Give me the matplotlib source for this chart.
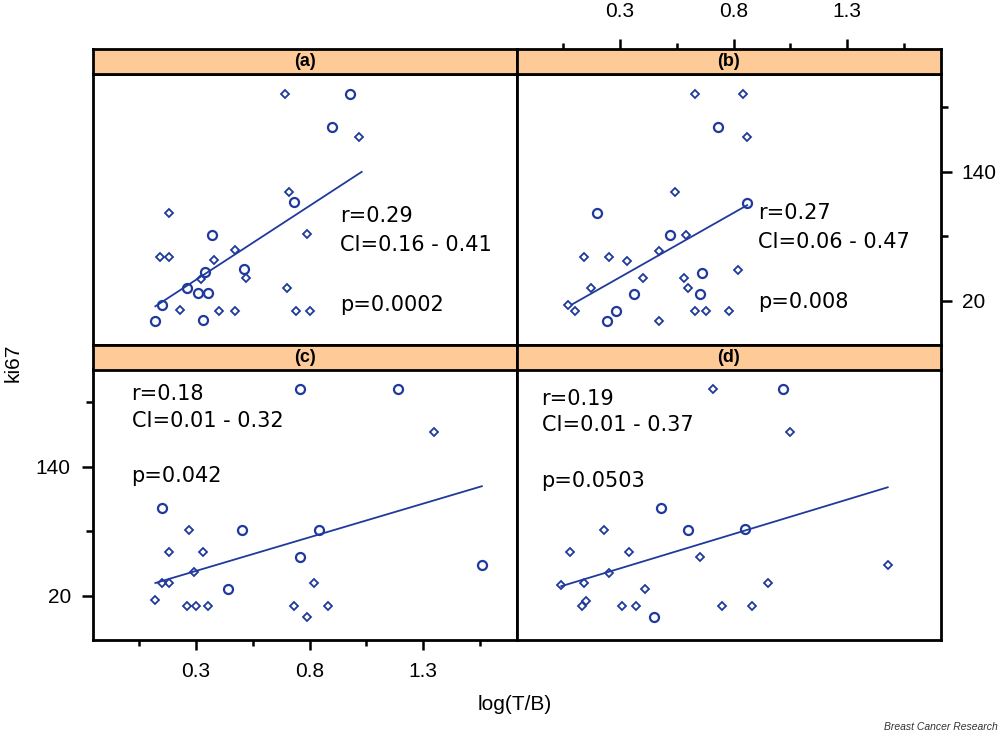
import matplotlib
matplotlib.use("Agg")
import matplotlib.pyplot as plt

# values (x = log(T/B), y = ki67)
a_big_x = [0.98, 0.90, 0.73, 0.37, 0.51, 0.31, 0.35, 0.12, 0.33, 0.26, 0.15, 0.34]
a_big_y = [212, 182, 112, 81, 50, 27, 27, 1, 2, 32, 16, 47]
a_small_x = [0.69, 1.02, 0.71, 0.18, 0.79, 0.14, 0.18, 0.38, 0.47, 0.52, 0.70,
             0.23, 0.40, 0.47, 0.74, 0.80, 0.32]
a_small_y = [212, 172, 121, 102, 82, 61, 61, 58, 67, 41, 32, 12, 11, 11, 11, 11, 40]
a_fit_x = [0.12, 1.03]
a_fit_y = [15, 140]

b_big_x = [0.73, 0.20, 0.52, 0.86, 0.66, 0.36, 0.65, 0.24, 0.28]
b_big_y = [182, 102, 81, 111, 46, 26, 26, 1, 11]
b_small_x = [0.63, 0.84, 0.86, 0.54, 0.59, 0.14, 0.25, 0.33, 0.47, 0.40, 0.58,
             0.60, 0.82, 0.17, 0.07, 0.10, 0.63, 0.68, 0.78, 0.47]
b_small_y = [212, 212, 172, 121, 81, 61, 61, 57, 66, 41, 41, 32, 49, 32, 16, 11,
             11, 11, 11, 1]
b_fit_x = [0.09, 0.86]
b_fit_y = [17, 109]

c_big_x = [0.76, 1.19, 0.15, 0.50, 0.76, 1.56, 0.44, 0.84]
c_big_y = [212, 212, 102, 81, 56, 49, 26, 81]
c_small_x = [1.35, 0.27, 0.18, 0.33, 0.15, 0.18, 0.29, 0.12, 0.26, 0.30, 0.35,
             0.73, 0.88, 0.79, 0.82]
c_small_y = [172, 81, 61, 61, 32, 32, 42, 16, 11, 11, 11, 11, 11, 0, 32]
c_fit_x = [0.12, 1.56]
c_fit_y = [32, 122]

d_big_x = [1.02, 0.48, 0.60, 0.45, 0.85]
d_big_y = [212, 102, 81, 0, 82]
d_small_x = [0.71, 1.05, 0.23, 0.08, 0.34, 0.65, 1.48, 0.04, 0.14, 0.41, 0.95,
             0.15, 0.13, 0.31, 0.37, 0.75, 0.88, 0.25]
d_small_y = [212, 172, 81, 61, 61, 56, 49, 30, 32, 26, 32, 15, 11, 11, 11, 11, 11, 41]
d_fit_x = [0.04, 1.48]
d_fit_y = [29, 121]

panel_names = ["(a)", "(b)", "(c)", "(d)"]
r_values = ["0.29", "0.27", "0.18", "0.19"]
ci_values = ["0.16 - 0.41", "0.06 - 0.47", "0.01 - 0.32", "0.01 - 0.37"]
p_values = ["0.0002", "0.008", "0.042", "0.0503"]

x_major = [0.3, 0.8, 1.3]
x_minor = [0.05, 0.55, 1.05, 1.55]
y_major = [20, 140]
y_minor = [80, 200]

BLUE = "#1f3a9c"
STRIP = "#fecb98"
XLIM = (-0.155, 1.715)
YLIM = (-21, 231)

# panel placement in figure fraction: left, plot bottom, strip bottom, text anchors
layout = [
    (0.093, 0.5287, 0.8989, (0.583, [0.476, 0.369, 0.148])),
    (0.517, 0.5287, 0.8989, (0.568, [0.487, 0.381, 0.160])),
    (0.093, 0.1257, 0.4945, (0.091, [0.907, 0.808, 0.605])),
    (0.517, 0.1257, 0.4945, (0.058, [0.891, 0.793, 0.586])),
]
W, H, SH = 0.424, 0.3702, 0.0342

data = [
    (a_big_x, a_big_y, a_small_x, a_small_y, a_fit_x, a_fit_y),
    (b_big_x, b_big_y, b_small_x, b_small_y, b_fit_x, b_fit_y),
    (c_big_x, c_big_y, c_small_x, c_small_y, c_fit_x, c_fit_y),
    (d_big_x, d_big_y, d_small_x, d_small_y, d_fit_x, d_fit_y),
]

TICKFONT = {"family": "Liberation Sans", "size": 15}


def frame(ax):
    for spine in ax.spines.values():
        spine.set_linewidth(2)
        spine.set_color("black")


def set_x_ticks(ax):
    ax.set_xticks(x_major, ["0.3", "0.8", "1.3"])
    ax.set_xticks(x_minor, minor=True)


def set_y_ticks(ax):
    ax.set_yticks(y_major, ["20", "140"])
    ax.set_yticks(y_minor, minor=True)


fig = plt.figure(figsize=(10, 7.32), dpi=100)

for i, name in enumerate(panel_names):
    left, bottom, strip_bottom, (tx, tys) = layout[i]
    big_x, big_y, small_x, small_y, fit_x, fit_y = data[i]

    ax = fig.add_axes([left, bottom, W, H])
    ax.set_xlim(XLIM)
    ax.set_ylim(YLIM)
    ax.plot(fit_x, fit_y, color=BLUE, lw=1.3, zorder=2)
    ax.plot(big_x, big_y, "o", ms=6.5, mfc="none", mec=BLUE, mew=1.6, zorder=3)
    ax.plot(small_x, small_y, "D", ms=3.6, mfc="none", mec=BLUE, mew=1.3, zorder=3)
    frame(ax)

    stats = ["r=" + r_values[i], "CI=" + ci_values[i], "p=" + p_values[i]]
    for text, ty in zip(stats, tys):
        ax.text(tx, ty, text, transform=ax.transAxes, ha="left", va="center",
                fontsize=15, family="DejaVu Sans", color="black")

    ax.tick_params(which="both", left=False, bottom=False, right=False, top=False,
                   labelleft=False, labelbottom=False)

    if name == "(c)":
        set_x_ticks(ax)
        set_y_ticks(ax)
        ax.tick_params(axis="x", which="major", bottom=True, labelbottom=True,
                       length=7, width=1.8, pad=9)
        ax.tick_params(axis="x", which="minor", bottom=True, length=4.5, width=1.8)
        ax.tick_params(axis="y", which="major", left=True, labelleft=True,
                       length=8, width=1.8, pad=8)
        ax.tick_params(axis="y", which="minor", left=True, length=5, width=1.8)
    if name == "(b)":
        set_y_ticks(ax)
        ax.tick_params(axis="y", which="major", right=True, labelright=True,
                       length=8, width=1.8, pad=7)
        ax.tick_params(axis="y", which="minor", right=True, length=5, width=1.8)
    for lab in ax.get_xticklabels() + ax.get_yticklabels():
        lab.set_fontfamily(TICKFONT["family"])
        lab.set_fontsize(TICKFONT["size"])

    strip = fig.add_axes([left, strip_bottom, W, SH])
    strip.set_facecolor(STRIP)
    strip.set_xlim(XLIM)
    strip.set_yticks([])
    strip.text(0.5, 0.5, name, transform=strip.transAxes, ha="center", va="center",
               fontsize=13, fontweight="bold", family="Liberation Sans")
    frame(strip)
    if name == "(b)":
        set_x_ticks(strip)
        strip.xaxis.tick_top()
        strip.tick_params(axis="x", which="major", length=7, width=1.8, pad=13)
        strip.tick_params(axis="x", which="minor", top=True, length=4.5, width=1.8)
        for lab in strip.get_xticklabels():
            lab.set_fontfamily(TICKFONT["family"])
            lab.set_fontsize(TICKFONT["size"])
    else:
        strip.set_xticks([])

fig.text(0.013, 0.505, "ki67", rotation=90, ha="center", va="center",
         fontsize=15, family="Liberation Sans")
fig.text(0.515, 0.037, "log(T/B)", ha="center", va="center",
         fontsize=15, family="Liberation Sans")
fig.text(0.998, 0.007, "Breast Cancer Research", ha="right", va="center",
         fontsize=7.5, style="italic", color="#333333", family="Liberation Sans")

fig.savefig("out.png", dpi=100)
